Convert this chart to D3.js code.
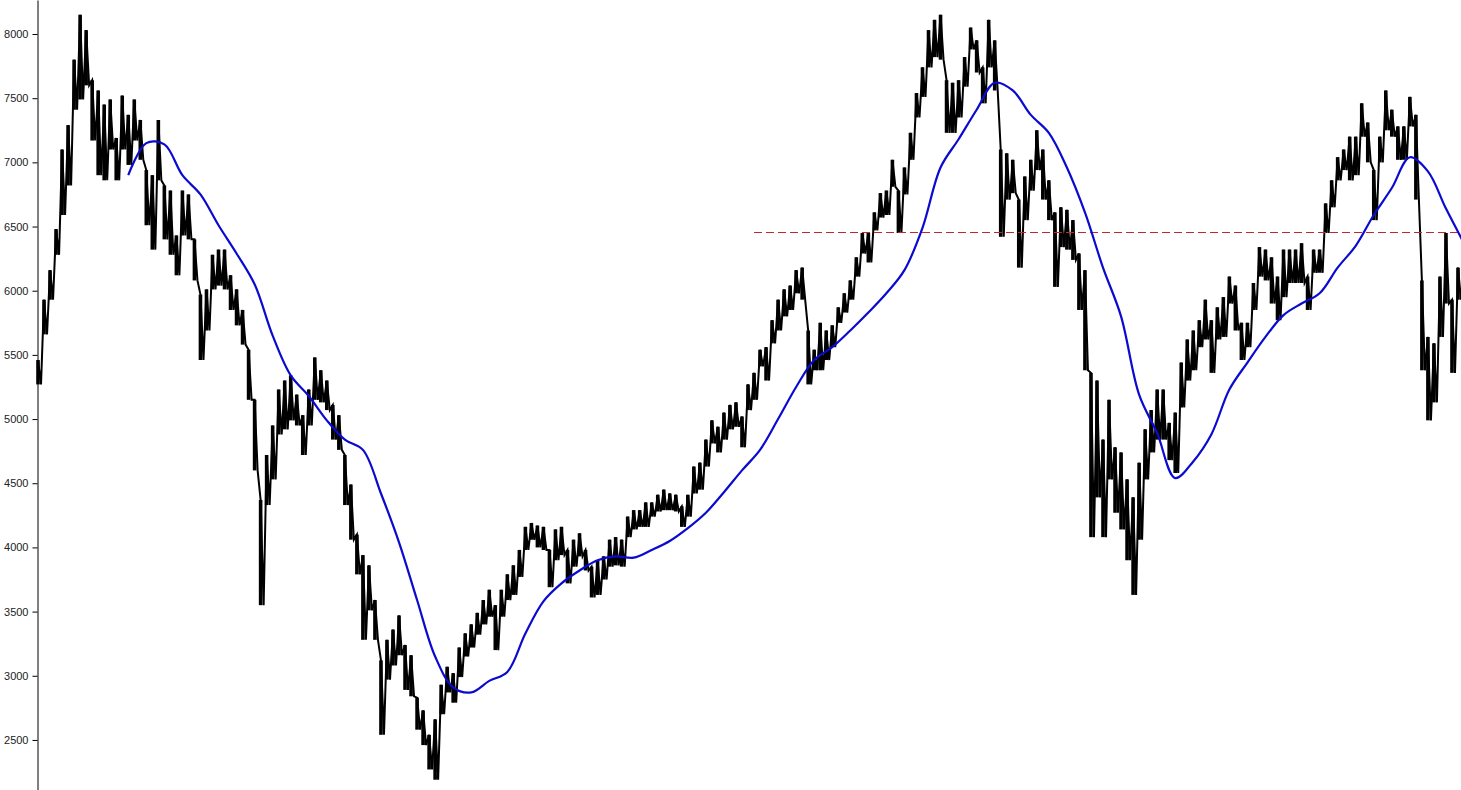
<!DOCTYPE html>
<html>
<head>
<meta charset="utf-8">
<script src="https://cdn.jsdelivr.net/npm/d3@7/dist/d3.min.js"></script>
<style>
  html, body { margin: 0; padding: 0; background: #fff; }
  svg { display: block; }
  .tick text { font-family: "Liberation Sans", Arial, sans-serif; font-size: 11px; fill: #222; }
</style>
</head>
<body>
<svg id="chart" width="1461" height="790"></svg>
<script>
// ---- data ----
const yTicks = [2500, 3000, 3500, 4000, 4500, 5000, 5500, 6000, 6500, 7000, 7500, 8000];

// Price: daily high / low envelope, sampled evenly along the time axis
const priceHigh = [
  5460, 5930, 6160, 6480, 7100, 7290, 7800, 8150, 8030, 7640,
  7560, 7450, 7490, 7190, 7520, 7370, 7490, 7330, 6940, 6900,
  7330, 6820, 6780, 6430, 6780, 6750, 6400, 5970, 6010, 6280,
  6320, 6320, 6120, 6010, 5850, 5540, 5150, 4370, 4720, 4950,
  5230, 5300, 5340, 5190, 5030, 5230, 5480, 5380, 5300, 5110,
  5030, 4720, 4490, 4100, 3940, 3860, 3590, 3120, 3280, 3360,
  3470, 3240, 3160, 2830, 2730, 2540, 2660, 2930, 3070, 3020,
  3220, 3330, 3400, 3490, 3590, 3670, 3550, 3670, 3790, 3860,
  3980, 4160, 4190, 4170, 4160, 3980, 4140, 4160, 3980, 4060,
  4110, 3980, 3850, 3900, 3930, 4060, 4080, 4060, 4240, 4290,
  4290, 4350, 4350, 4410, 4450, 4420, 4410, 4320, 4410, 4630,
  4660, 4840, 4990, 4940, 5050, 5110, 5130, 5020, 5270, 5360,
  5540, 5560, 5770, 5930, 6010, 6040, 6160, 6180, 5690, 5540,
  5750, 5690, 5730, 5870, 5980, 6080, 6260, 6450, 6450, 6610,
  6760, 6780, 7020, 6780, 6960, 7230, 7540, 7740, 8030, 8110,
  8150, 7640, 7620, 7640, 7820, 8050, 7950, 7740, 8110, 7950,
  7100, 7070, 7020, 6710, 6890, 7020, 7250, 7100, 6860, 6610,
  6650, 6630, 6550, 6290, 6160, 5360, 5300, 4840, 5150, 4780,
  4740, 4530, 4390, 4660, 4920, 5070, 5230, 5230, 4970, 5050,
  5440, 5620, 5690, 5770, 5930, 5770, 5870, 5950, 6110, 6040,
  5750, 5750, 6060, 6340, 6320, 6260, 6110, 6320, 6320, 6320,
  6370, 6110, 6320, 6320, 6680, 6860, 7040, 7100, 7200, 7200,
  7460, 7310, 6940, 7200, 7560, 7410, 7280, 7280, 7510, 7370,
  6080, 5640, 5590, 6110, 6450, 5930, 6180
];
const priceLow = [
  5270, 5660, 5930, 6280, 6590, 6820, 7410, 7490, 7600, 7170,
  6900, 6860, 7100, 6860, 7100, 6980, 7170, 7020, 6510, 6320,
  6860, 6400, 6280, 6120, 6430, 6400, 6080, 5460, 5690, 6010,
  6040, 6010, 5850, 5730, 5580, 5150, 4600, 3550, 4330, 4530,
  4880, 4920, 4990, 4950, 4720, 4950, 5150, 5130, 5070, 4840,
  4760, 4330, 4060, 3790, 3280, 3510, 3280, 2540, 2970, 3080,
  3160, 2890, 2840, 2580, 2460, 2270, 2190, 2700, 2870, 2790,
  2990, 3150, 3220, 3320, 3400, 3460, 3200, 3460, 3590, 3630,
  3770, 3980, 4060, 4000, 3980, 3690, 3900, 3940, 3720, 3850,
  3930, 3820, 3610, 3630, 3750, 3850, 3860, 3850, 4080, 4140,
  4160, 4160, 4240, 4280, 4290, 4290, 4280, 4160, 4240, 4420,
  4450, 4630, 4810, 4740, 4840, 4920, 4940, 4780, 5070, 5150,
  5410, 5300, 5590, 5690, 5800, 5850, 5980, 5930, 5270, 5380,
  5380, 5460, 5560, 5750, 5830, 5930, 6110, 6290, 6220, 6470,
  6570, 6590, 6810, 6450, 6750, 7020, 7350, 7510, 7740, 7820,
  7800, 7230, 7230, 7350, 7590, 7880, 7700, 7460, 7740, 7560,
  6420, 6710, 6760, 6180, 6550, 6780, 6940, 6710, 6550, 6030,
  6340, 6320, 6240, 5850, 5380, 4080, 4390, 4080, 4530, 4270,
  4140, 3900, 3630, 4060, 4530, 4740, 4840, 4840, 4680, 4580,
  5090, 5300, 5380, 5560, 5620, 5360, 5620, 5640, 5900, 5690,
  5460, 5560, 5850, 6110, 6080, 5900, 5770, 5950, 6060, 6060,
  6060, 5850, 6140, 6140, 6450, 6650, 6860, 6940, 6860, 6900,
  7200, 7000, 6550, 7000, 7250, 7200, 7020, 7020, 7280, 6710,
  5380, 4990, 5130, 5640, 5900, 5360, 5930
];

// Moving average: one value every 3 price samples, starting at sample 15
const maStart = 15;
const maStep = 3;
const maValues = [
  6900, 7150, 7140, 6900, 6750, 6510, 6290, 6050, 5650, 5340,
  5180, 4990, 4840, 4760, 4420, 4040, 3590, 3150, 2910, 2870,
  2960, 3030, 3330, 3580, 3720, 3820, 3900, 3930, 3920, 3980,
  4050, 4150, 4270, 4430, 4600, 4760, 5000, 5250, 5460, 5560,
  5690, 5830, 5980, 6160, 6490, 6960, 7180, 7410, 7620, 7560,
  7370, 7230, 6960, 6610, 6180, 5800, 5190, 4890, 4540, 4670,
  4880, 5230, 5440, 5640, 5810, 5900, 5980, 6180, 6350, 6590,
  6800, 7040, 6930, 6640, 6370
];

// Horizontal reference level (red dashed), starting at this sample index
const refLevel = 6460;
const refStartIndex = 119;

// ---- drawing ----
const W = 1461, H = 790;
const svg = d3.select("#chart");

const x = d3.scaleLinear().domain([0, priceHigh.length - 1]).range([38, 1458]);
const y = d3.scaleLinear().domain([2110, 8265]).range([H, 0]);

// y axis
const axis = d3.axisLeft(y).tickValues(yTicks).tickSize(5).tickSizeOuter(0).tickPadding(4)
  .tickFormat(d3.format("d"));
const gAxis = svg.append("g").attr("transform", "translate(37.5,0)").call(axis);
gAxis.select(".domain").attr("stroke", "#000").attr("stroke-width", 1);
gAxis.selectAll(".tick line").attr("stroke", "#000");

// price: vertical high-low bars
const band = priceHigh.map((h, i) => ({ i, h, l: priceLow[i] }));
svg.append("g")
  .selectAll("line")
  .data(band)
  .join("line")
  .attr("x1", d => x(d.i)).attr("x2", d => x(d.i))
  .attr("y1", d => y(d.h)).attr("y2", d => y(d.l))
  .attr("stroke", "#000")
  .attr("stroke-width", 3.6);

// price zigzag (high -> low per sample) for the jagged bar texture
const verts = [];
priceHigh.forEach((h, i) => {
  verts.push([i, h]);
  verts.push([i + 0.5, priceLow[i]]);
});
svg.append("path")
  .datum(verts)
  .attr("fill", "none")
  .attr("stroke", "#000")
  .attr("stroke-width", 2)
  .attr("d", d3.line().x(d => x(d[0])).y(d => y(d[1])));

// red dashed reference level
const yRef = Math.round(y(refLevel)) + 0.5;
svg.append("line")
  .attr("x1", x(refStartIndex)).attr("x2", W)
  .attr("y1", yRef).attr("y2", yRef)
  .attr("stroke", "#c0282a")
  .attr("stroke-width", 1)
  .attr("stroke-dasharray", "8,4");

// moving average
const maPts = maValues.map((v, k) => [maStart + k * maStep, v]);
svg.append("path")
  .datum(maPts)
  .attr("fill", "none")
  .attr("stroke", "#0a0ad0")
  .attr("stroke-width", 2.2)
  .attr("d", d3.line().curve(d3.curveCatmullRom.alpha(0.5)).x(d => x(d[0])).y(d => y(d[1])));
</script>
</body>
</html>
